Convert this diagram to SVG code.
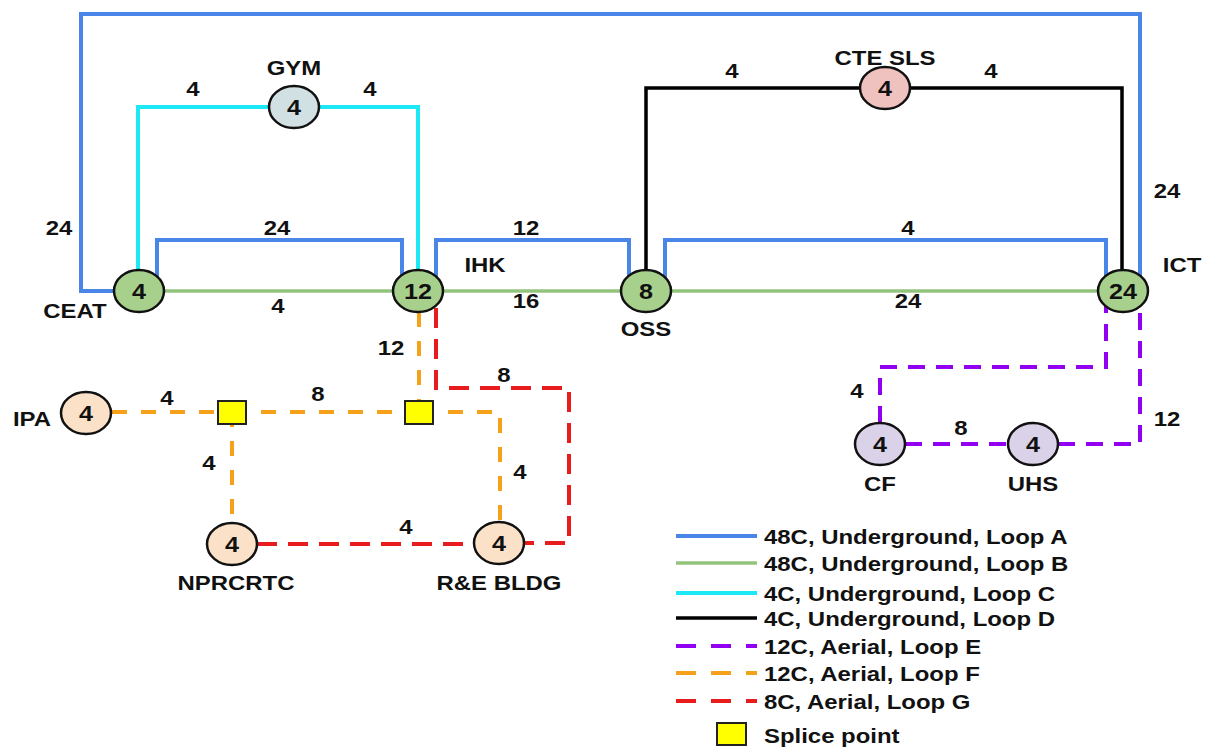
<svg xmlns="http://www.w3.org/2000/svg" width="1212" height="751" viewBox="0 0 1212 751">
<style>
.t{font-family:"Liberation Sans",Arial,sans-serif;font-weight:bold;font-size:21px;fill:#111;text-anchor:middle}
.n{font-family:"Liberation Sans",Arial,sans-serif;font-weight:bold;font-size:22px;fill:#111;text-anchor:middle}
.lg{font-family:"Liberation Sans",Arial,sans-serif;font-weight:bold;font-size:21px;fill:#111;text-anchor:start}
.nd{stroke:#111;stroke-width:2.5}
.green{fill:#a8d08d}.gym{fill:#d0e0e3}.cte{fill:#f0c2bf}.peach{fill:#fbe1c8}.lav{fill:#d9d2e9}
.A{fill:none;stroke:#4a86e8;stroke-width:4}
.B{fill:none;stroke:#93c47d;stroke-width:3.5}
.C{fill:none;stroke:#1de9f6;stroke-width:4}
.D{fill:none;stroke:#000;stroke-width:3.5}
.E{fill:none;stroke:#9100f0;stroke-width:4;stroke-dasharray:17 11}
.F{fill:none;stroke:#f6a11a;stroke-width:4;stroke-dasharray:15 14}
.G{fill:none;stroke:#e81c1c;stroke-width:4;stroke-dasharray:20 11}
.LE{stroke-dasharray:20 15}
.sp{fill:#ffff00;stroke:#222;stroke-width:2}
</style>
<rect width="1212" height="751" fill="#ffffff"/>
<g id="connectors">
  <path class="A" d="M139 291 H81 V14 H1140 V285"/>
  <path class="A" d="M157 291 V240 H402 V291"/>
  <path class="A" d="M436 291 V240 H629 V291"/>
  <path class="A" d="M665 291 V240 H1106 V291"/>
  <path class="B" d="M139 291 H1123"/>
  <path class="C" d="M138 291 V107 H418 V291"/>
  <path class="D" d="M646 291 V88 H1122 V291"/>
  <path class="E" d="M1106 296 V367 H880 V444"/>
  <path class="E" d="M905 444 H1008"/>
  <path class="E" d="M1058 444 H1140 V296"/>
  <path class="F" d="M112 412 H232"/>
  <path class="F" d="M232 412 H419"/>
  <path class="F" d="M419 312 V412"/>
  <path class="F" d="M419 412 H500 V522"/>
  <path class="F" d="M232 412 V523"/>
  <path class="G" d="M436 308 V388 H569 V543 H524"/>
  <path class="G" d="M257 544 H474"/>
</g>
<g id="edge-labels">
  <text class="t" transform="translate(59,235) scale(1.14,1)">24</text>
  <text class="t" transform="translate(193,96) scale(1.14,1)">4</text>
  <text class="t" transform="translate(370,96) scale(1.14,1)">4</text>
  <text class="t" transform="translate(277,235) scale(1.14,1)">24</text>
  <text class="t" transform="translate(278,313) scale(1.14,1)">4</text>
  <text class="t" transform="translate(526,235) scale(1.14,1)">12</text>
  <text class="t" transform="translate(526,308) scale(1.14,1)">16</text>
  <text class="t" transform="translate(732,78) scale(1.14,1)">4</text>
  <text class="t" transform="translate(991,78) scale(1.14,1)">4</text>
  <text class="t" transform="translate(1167,198) scale(1.14,1)">24</text>
  <text class="t" transform="translate(908,235) scale(1.14,1)">4</text>
  <text class="t" transform="translate(908,308) scale(1.14,1)">24</text>
  <text class="t" transform="translate(391,355) scale(1.14,1)">12</text>
  <text class="t" transform="translate(504,382) scale(1.14,1)">8</text>
  <text class="t" transform="translate(167,405) scale(1.14,1)">4</text>
  <text class="t" transform="translate(318,401) scale(1.14,1)">8</text>
  <text class="t" transform="translate(209,470) scale(1.14,1)">4</text>
  <text class="t" transform="translate(520,479) scale(1.14,1)">4</text>
  <text class="t" transform="translate(406,534) scale(1.14,1)">4</text>
  <text class="t" transform="translate(857,398) scale(1.14,1)">4</text>
  <text class="t" transform="translate(961,435) scale(1.14,1)">8</text>
  <text class="t" transform="translate(1167,426) scale(1.14,1)">12</text>
</g>
<g id="node-ceat">
  <ellipse class="nd green" cx="139" cy="291" rx="25" ry="21"/>
  <text class="n" transform="translate(139,299) scale(1.14,1)">4</text>
  <text class="t" transform="translate(75,318) scale(1.14,1)">CEAT</text>
</g>
<g id="node-ihk">
  <ellipse class="nd green" cx="418" cy="291" rx="25" ry="21"/>
  <text class="n" transform="translate(418,299) scale(1.14,1)">12</text>
  <text class="t" transform="translate(485,272) scale(1.14,1)">IHK</text>
</g>
<g id="node-oss">
  <ellipse class="nd green" cx="646" cy="291" rx="25" ry="21"/>
  <text class="n" transform="translate(646,299) scale(1.14,1)">8</text>
  <text class="t" transform="translate(646,336) scale(1.14,1)">OSS</text>
</g>
<g id="node-ict">
  <ellipse class="nd green" cx="1123" cy="291" rx="25" ry="21"/>
  <text class="n" transform="translate(1123,299) scale(1.14,1)">24</text>
  <text class="t" transform="translate(1182,272) scale(1.14,1)">ICT</text>
</g>
<g id="node-gym">
  <ellipse class="nd gym" cx="294" cy="107" rx="25" ry="21"/>
  <text class="n" transform="translate(294,115) scale(1.14,1)">4</text>
  <text class="t" transform="translate(294,75) scale(1.14,1)">GYM</text>
</g>
<g id="node-cte-sls">
  <ellipse class="nd cte" cx="885" cy="88" rx="25" ry="21"/>
  <text class="n" transform="translate(885,96) scale(1.14,1)">4</text>
  <text class="t" transform="translate(885,65) scale(1.14,1)">CTE SLS</text>
</g>
<g id="node-ipa">
  <ellipse class="nd peach" cx="86" cy="413" rx="25" ry="21"/>
  <text class="n" transform="translate(86,421) scale(1.14,1)">4</text>
  <text class="t" transform="translate(32,426) scale(1.14,1)">IPA</text>
</g>
<g id="node-nprcrtc">
  <ellipse class="nd peach" cx="232" cy="544" rx="25" ry="21"/>
  <text class="n" transform="translate(232,552) scale(1.14,1)">4</text>
  <text class="t" transform="translate(236,590) scale(1.14,1)">NPRCRTC</text>
</g>
<g id="node-re-bldg">
  <ellipse class="nd peach" cx="499" cy="543" rx="25" ry="21"/>
  <text class="n" transform="translate(499,551) scale(1.14,1)">4</text>
  <text class="t" transform="translate(499,590) scale(1.14,1)">R&amp;E BLDG</text>
</g>
<g id="node-cf">
  <ellipse class="nd lav" cx="880" cy="444" rx="25" ry="21"/>
  <text class="n" transform="translate(880,452) scale(1.14,1)">4</text>
  <text class="t" transform="translate(880,491) scale(1.14,1)">CF</text>
</g>
<g id="node-uhs">
  <ellipse class="nd lav" cx="1033" cy="444" rx="25" ry="21"/>
  <text class="n" transform="translate(1033,452) scale(1.14,1)">4</text>
  <text class="t" transform="translate(1033,491) scale(1.14,1)">UHS</text>
</g>
<g id="splice-1"><rect class="sp" x="218" y="401" width="28" height="23"/></g>
<g id="splice-2"><rect class="sp" x="405" y="401" width="28" height="23"/></g>
<g id="legend">
  <line class="A" x1="676" y1="536" x2="757" y2="536"/>
  <line class="B" x1="676" y1="563" x2="757" y2="563"/>
  <line class="C" x1="676" y1="593" x2="757" y2="593"/>
  <line class="D" x1="676" y1="618" x2="757" y2="618"/>
  <line class="E LE" x1="676" y1="646" x2="757" y2="646"/>
  <line class="F LE" x1="676" y1="673" x2="757" y2="673"/>
  <line class="G LE" x1="676" y1="701" x2="757" y2="701"/>
  <rect class="sp" x="717" y="723" width="29" height="22"/>
  <text class="lg" transform="translate(764,544) scale(1.14,1)">48C, Underground, Loop A</text>
  <text class="lg" transform="translate(764,571) scale(1.14,1)">48C, Underground, Loop B</text>
  <text class="lg" transform="translate(764,601) scale(1.14,1)">4C, Underground, Loop C</text>
  <text class="lg" transform="translate(764,626) scale(1.14,1)">4C, Underground, Loop D</text>
  <text class="lg" transform="translate(764,654) scale(1.14,1)">12C, Aerial, Loop E</text>
  <text class="lg" transform="translate(764,681) scale(1.14,1)">12C, Aerial, Loop F</text>
  <text class="lg" transform="translate(764,709) scale(1.14,1)">8C, Aerial, Loop G</text>
  <text class="lg" transform="translate(764,743) scale(1.14,1)">Splice point</text>
</g>
</svg>
